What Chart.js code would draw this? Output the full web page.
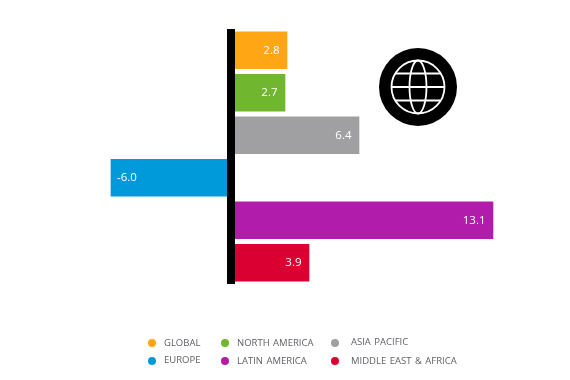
<!DOCTYPE html>
<html>
<head>
<meta charset="utf-8">
<script src="https://cdn.jsdelivr.net/npm/chart.js@4"></script>
<style>
  html, body { margin: 0; background: #fff; }
  #wrap { position: relative; width: 570px; height: 380px; overflow: hidden; }
  #globe { position: absolute; left: 379px; top: 48px; }
  .key { position: absolute; font: 9.5px "Open Sans", sans-serif; color: #5f5f66; white-space: nowrap; line-height: 12px; word-spacing: 1px; }
  .dot { position: absolute; width: 8px; height: 8px; border-radius: 50%; }
</style>
</head>
<body>
<div id="wrap">
  <canvas id="chart" width="570" height="380"></canvas>
  <svg id="globe" width="78" height="78" viewBox="0 0 78 78">
    <circle cx="39" cy="39" r="39" fill="#000"/>
    <g fill="none" stroke="#fff" stroke-width="1.8">
      <circle cx="39" cy="39" r="26.5"/>
      <ellipse cx="39" cy="39" rx="8.5" ry="26.5"/>
      <line x1="12.5" y1="39" x2="65.5" y2="39"/>
      <line x1="16.2" y1="25.5" x2="61.8" y2="25.5"/>
      <line x1="16.2" y1="52.5" x2="61.8" y2="52.5"/>
    </g>
  </svg>
</div>
<script>
const regions = ["GLOBAL", "NORTH AMERICA", "ASIA PACIFIC", "EUROPE", "LATIN AMERICA", "MIDDLE EAST & AFRICA"];
const growth = [2.8, 2.7, 6.4, -6.0, 13.1, 3.9];
const colors = ["#FFA614", "#70B62E", "#A0A0A2", "#009ADB", "#B11CAB", "#DB0032"];

// legend slots, same order as regions
const legendSlots = [
  { dot: 148, dotY: 343, text: 164, y: 343 },
  { dot: 221, dotY: 343, text: 237, y: 343 },
  { dot: 331, dotY: 343, text: 351, y: 342 },
  { dot: 148, dotY: 361, text: 164, y: 360 },
  { dot: 221, dotY: 361, text: 237, y: 361 },
  { dot: 331, dotY: 361, text: 351, y: 361 }
];

const barLabels = {
  id: "barLabels",
  afterDatasetsDraw(chart) {
    const ctx = chart.ctx;
    ctx.save();
    ctx.font = '11.5px "Open Sans", sans-serif';
    ctx.fillStyle = "#fff";
    ctx.textBaseline = "middle";
    chart.getDatasetMeta(0).data.forEach((bar, i) => {
      const negative = growth[i] < 0;
      ctx.textAlign = negative ? "left" : "right";
      ctx.fillText(growth[i].toFixed(1), bar.x + (negative ? 6 : -7.5), bar.y);
    });
    ctx.restore();
  }
};

new Chart(document.getElementById("chart"), {
  type: "bar",
  data: {
    labels: regions,
    datasets: [{
      data: growth,
      backgroundColor: colors,
      barThickness: 37
    }]
  },
  options: {
    indexAxis: "y",
    responsive: false,
    animation: false,
    layout: { padding: { left: 31, right: 19, top: 29, bottom: 96 } },
    plugins: { legend: { display: false }, tooltip: { enabled: false } },
    scales: {
      x: {
        min: -10,
        max: 16,
        // the thick black axis is the grid line at zero
        grid: {
          z: 2,
          drawTicks: false,
          color: "#000",
          lineWidth: c => (c.tick.value === 0 ? 8 : 0)
        },
        ticks: { display: false, stepSize: 2 },
        border: { display: false }
      },
      y: { display: false }
    }
  },
  plugins: [barLabels]
});

const wrap = document.getElementById("wrap");
regions.forEach((name, i) => {
  const slot = legendSlots[i];
  const dot = document.createElement("div");
  dot.className = "dot";
  dot.style.left = slot.dot + "px";
  dot.style.top = (slot.dotY - 4) + "px";
  dot.style.background = colors[i];
  wrap.appendChild(dot);
  const key = document.createElement("div");
  key.className = "key";
  key.style.left = slot.text + "px";
  key.style.top = (slot.y - 6) + "px";
  key.textContent = name;
  wrap.appendChild(key);
});
</script>
</body>
</html>
